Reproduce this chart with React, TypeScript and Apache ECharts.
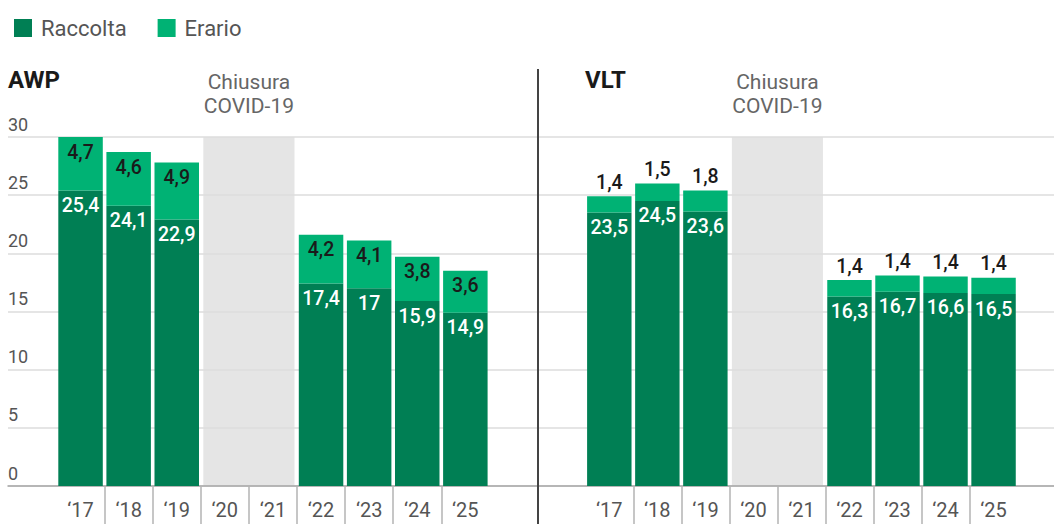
import React, { useEffect, useRef } from "react";
import * as echarts from "echarts";

const categories = ["‘17", "‘18", "‘19", "‘20", "‘21", "‘22", "‘23", "‘24", "‘25"];
const awpRaccolta = [25.4, 24.1, 22.9, null, null, 17.4, 17, 15.9, 14.9];
const awpErario = [4.7, 4.6, 4.9, null, null, 4.2, 4.1, 3.8, 3.6];
const vltRaccolta = [23.5, 24.5, 23.6, null, null, 16.3, 16.7, 16.6, 16.5];
const vltErario = [1.4, 1.5, 1.8, null, null, 1.4, 1.4, 1.4, 1.4];
const yMin = 0;
const yMax = 30;
const yInterval = 5;
const covidStart = "‘20";
const covidEnd = "‘21";
const covidLabel = "Chiusura\nCOVID-19";

const C_RACCOLTA = "#007f54";
const C_ERARIO = "#00b274";
const FONT = "Roboto";

// layout
const TOP = 137;
const BOTTOM = 38;
const BAND_L = 48.1;
const BAR_L_LEFT = 56.5;
const BAND_R = 48.03;
const BAR_R_LEFT = 585.3;
const DIVIDER_X = 538;

const fmt = (p: any) => String(p.value).replace(".", ",");

function App() {
  const ref = useRef<HTMLDivElement>(null);
  useEffect(() => {
    if (!ref.current) return;
    const chart = echarts.init(ref.current, null, { renderer: "svg" });
    const covidIdx = [categories.indexOf(covidStart), categories.indexOf(covidEnd)];

    const gray = (xi: number) => ({
      type: "custom",
      xAxisIndex: xi,
      yAxisIndex: xi,
      z: -1,
      silent: true,
      data: [[covidIdx[0], covidIdx[1], yMax]],
      encode: { x: [0, 1], y: 2 },
      renderItem: (params: any, api: any) => {
        const s = api.value(0);
        const e = api.value(1);
        const top = api.value(2);
        const p0 = api.coord([s, top]);
        const p1 = api.coord([e, 0]);
        const band = api.size([1, 0])[0];
        return {
          type: "rect",
          shape: {
            x: p0[0] - band / 2 + 2.5,
            y: p0[1],
            width: p1[0] - p0[0] + band - 5,
            height: p1[1] - p0[1],
          },
          style: { fill: "#e5e5e5" },
        };
      },
    });

    const yBase = { type: "value", min: yMin, max: yMax, interval: yInterval };
    const hiddenY = (g: number) => ({
      ...yBase,
      gridIndex: g,
      axisLine: { show: false },
      axisTick: { show: false },
      axisLabel: { show: false },
      splitLine: { show: false },
    });
    const fullX = (g: number) => ({
      type: "value",
      gridIndex: g,
      min: 0,
      max: 1,
      axisLine: { show: true, onZero: false, lineStyle: { color: "#a6a6a6", width: 1.5 } },
      axisTick: { show: false },
      axisLabel: { show: false },
      splitLine: { show: false },
    });
    const barX = (g: number) => ({
      type: "category",
      gridIndex: g,
      data: categories,
      axisLine: { show: false },
      axisTick: { show: false },
      axisLabel: { show: true, interval: 0, margin: 14, fontSize: 20, color: "#555", fontFamily: FONT },
      splitLine: { show: false },
    });
    const tickX = (g: number) => ({
      type: "category",
      gridIndex: g,
      data: categories.slice(1),
      boundaryGap: false,
      axisLine: { show: false },
      axisTick: { show: true, interval: 0, length: 38, lineStyle: { color: "#b3b3b3", width: 1.5 } },
      axisLabel: { show: false },
      splitLine: { show: false },
    });

    const racLabel = {
      show: true,
      position: "insideTop",
      distance: 5,
      color: "#ffffff",
      fontSize: 19.5,
      fontWeight: 500,
      fontFamily: FONT,
      formatter: fmt,
    };

    chart.setOption({
      animation: false,
      textStyle: { fontFamily: FONT },
      legend: {
        left: 9,
        top: 12,
        itemWidth: 18,
        itemHeight: 18,
        itemGap: 31,
        icon: "rect",
        data: ["Raccolta", "Erario"],
        textStyle: { fontSize: 22, color: "#555", padding: [0, 0, 0, 4], fontFamily: FONT },
        selectedMode: false,
      },
      grid: [
        { left: 8, right: 1054 - DIVIDER_X, top: TOP, bottom: BOTTOM },
        { left: BAR_L_LEFT, width: BAND_L * 9, top: TOP, bottom: BOTTOM },
        { left: BAR_L_LEFT + BAND_L, width: BAND_L * 7, top: TOP, bottom: BOTTOM },
        { left: DIVIDER_X, right: 0, top: TOP, bottom: BOTTOM },
        { left: BAR_R_LEFT, width: BAND_R * 9, top: TOP, bottom: BOTTOM },
        { left: BAR_R_LEFT + BAND_R, width: BAND_R * 7, top: TOP, bottom: BOTTOM },
      ],
      xAxis: [fullX(0), barX(1), tickX(2), fullX(3), barX(4), tickX(5)],
      yAxis: [
        {
          ...yBase,
          gridIndex: 0,
          axisLine: { show: false },
          axisTick: { show: false },
          axisLabel: {
            show: true,
            inside: true,
            margin: 0,
            align: "left",
            verticalAlign: "bottom",
            lineHeight: 18,
            padding: [0, 0, 4, 0],
            fontSize: 18,
            color: "#555",
            fontFamily: FONT,
          },
          splitLine: { show: true, lineStyle: { color: "#dddddd", width: 1.5 } },
        },
        hiddenY(1),
        hiddenY(2),
        {
          ...yBase,
          gridIndex: 3,
          axisLine: { show: false },
          axisTick: { show: false },
          axisLabel: { show: false },
          splitLine: { show: true, lineStyle: { color: "#dddddd", width: 1.5 } },
        },
        hiddenY(4),
        hiddenY(5),
      ],
      series: [
        gray(1),
        {
          name: "Raccolta",
          type: "bar",
          xAxisIndex: 1,
          yAxisIndex: 1,
          stack: "awp",
          barWidth: "92.5%",
          itemStyle: { color: C_RACCOLTA },
          label: racLabel,
          data: awpRaccolta,
        },
        {
          name: "Erario",
          type: "bar",
          xAxisIndex: 1,
          yAxisIndex: 1,
          stack: "awp",
          barWidth: "92.5%",
          itemStyle: { color: C_ERARIO },
          label: { ...racLabel, color: "#1a1a1a" },
          data: awpErario,
        },
        gray(4),
        {
          name: "Raccolta",
          type: "bar",
          xAxisIndex: 4,
          yAxisIndex: 4,
          stack: "vlt",
          barWidth: "92.5%",
          itemStyle: { color: C_RACCOLTA },
          label: racLabel,
          data: vltRaccolta,
        },
        {
          name: "Erario",
          type: "bar",
          xAxisIndex: 4,
          yAxisIndex: 4,
          stack: "vlt",
          barWidth: "92.5%",
          itemStyle: { color: C_ERARIO },
          label: { ...racLabel, position: "top", distance: 4, color: "#1a1a1a" },
          data: vltErario,
        },
      ],
      graphic: [
        {
          type: "line",
          shape: { x1: DIVIDER_X, y1: 69, x2: DIVIDER_X, y2: 524 },
          style: { stroke: "#444", lineWidth: 2 },
          z: 10,
        },
        {
          type: "text",
          x: 8,
          y: 80,
          style: { text: "AWP", font: `bold 24px ${FONT}`, fill: "#1a1a1a", verticalAlign: "middle", align: "left" },
        },
        {
          type: "text",
          x: 585,
          y: 80,
          style: { text: "VLT", font: `bold 24px ${FONT}`, fill: "#1a1a1a", verticalAlign: "middle", align: "left" },
        },
        {
          type: "text",
          x: BAR_L_LEFT + BAND_L * 4,
          y: 93.5,
          style: {
            text: covidLabel,
            font: `21px ${FONT}`,
            lineHeight: 24,
            fill: "#666",
            verticalAlign: "middle",
            align: "center",
          },
        },
        {
          type: "text",
          x: BAR_R_LEFT + BAND_R * 4,
          y: 93.5,
          style: {
            text: covidLabel,
            font: `21px ${FONT}`,
            lineHeight: 24,
            fill: "#666",
            verticalAlign: "middle",
            align: "center",
          },
        },
      ],
    });
    return () => chart.dispose();
  }, []);
  return (
    <div
      ref={ref}
      style={{ position: "absolute", left: 0, top: 0, width: 1054, height: 524 }}
    />
  );
}

export default App;
